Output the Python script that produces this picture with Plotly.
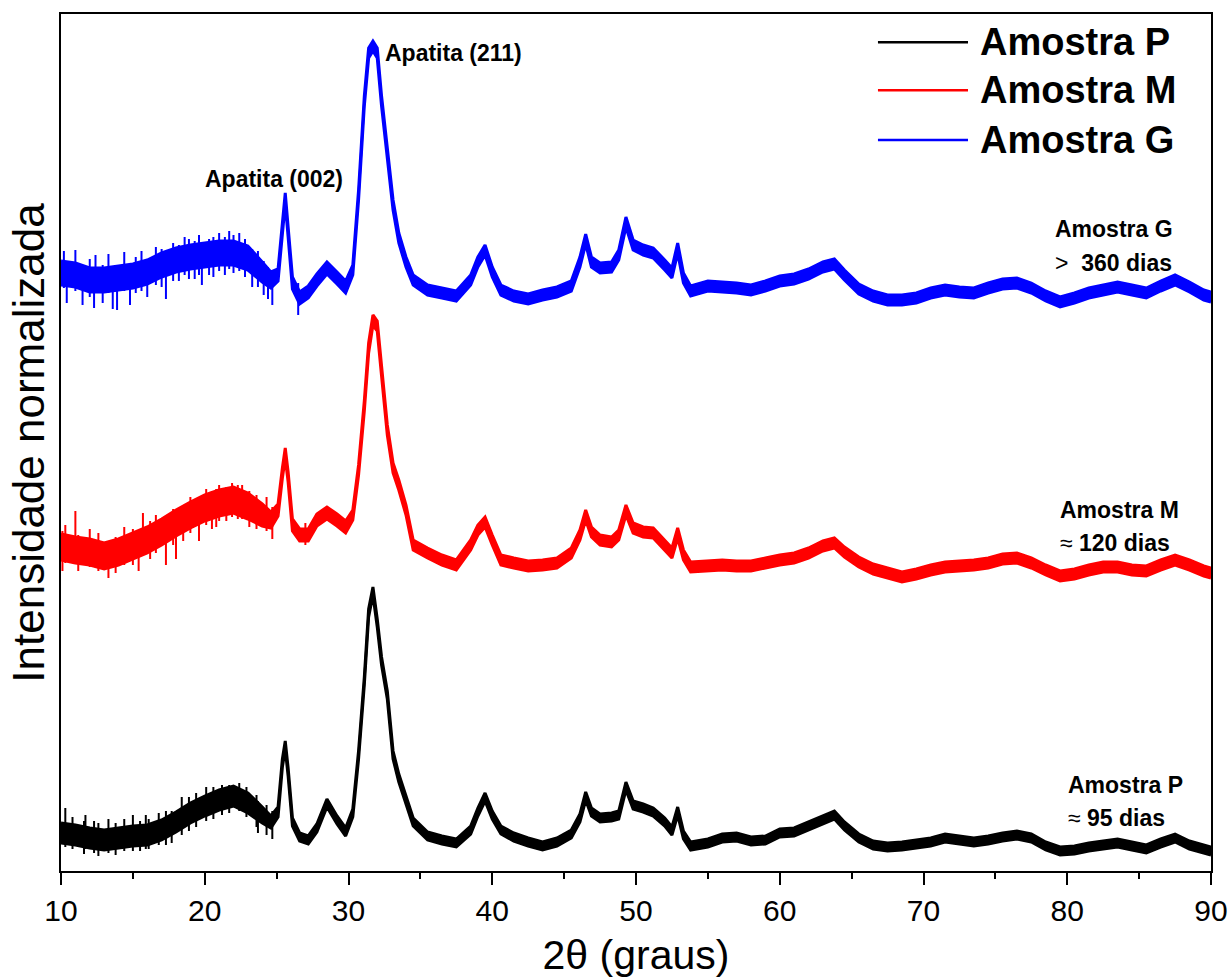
import plotly.graph_objects as go

# 2-theta grid (degrees), shared by the three patterns
two_theta = [
    10, 11, 12, 13, 14, 15, 16, 17, 18, 19, 20, 21, 22, 23, 24,
    24.6, 25.1, 25.4, 25.6, 25.8, 26.1, 26.6, 27.2, 27.8, 28.5, 29.2, 29.8,
    30.3, 30.7, 31.1, 31.4, 31.7, 32.0, 32.3, 32.7, 33.1, 33.5, 34.0, 34.5,
    35.5, 36.5, 37.5, 38.5, 39.0, 39.5, 40.0, 40.6, 41.5, 42.5, 43.5, 44.5,
    45.5, 46.1, 46.5, 46.9, 47.5, 48.3, 48.8, 49.3, 49.8, 50.5, 51.2, 52.0,
    52.5, 52.9, 53.3, 53.8, 55, 56, 57, 58, 59, 60, 61, 62, 63, 63.8, 64.5,
    65.5, 66.5, 67.5, 68.5, 69.5, 70.5, 71.5, 72.5, 73.5, 74.5, 75.5, 76.5,
    77.5, 78.5, 79.5, 80.5, 81.5, 82.5, 83.5, 84.5, 85.5, 86.5, 87.5, 88.5,
    89.5, 90,
]

# Offset, normalized intensities (a.u.) - mean line of each pattern
int_P = [
    38, 36, 33, 31, 33, 35, 36, 41, 49, 58, 65, 71, 75, 68, 56,
    49, 59, 108, 126, 99, 49, 34, 31, 43, 68, 51, 39,
    58, 116, 190, 258, 280, 248, 210, 176, 116, 93, 71, 49,
    35, 31, 28, 41, 59, 74, 56, 41, 34, 29, 25, 29,
    37, 53, 75, 59, 53, 54, 56, 85, 66, 63, 59, 49,
    40, 60, 36, 25, 28, 33, 34, 30, 31, 38, 39, 45, 51, 56, 45,
    33, 26, 24, 25, 27, 29, 33, 31, 29, 31, 34, 36,
    33, 25, 20, 21, 24, 26, 28, 25, 22, 28, 33, 26,
    22, 20,
]
int_M = [
    324, 321, 319, 315, 319, 325, 331, 339, 348, 356, 363, 368, 371, 365, 356,
    351, 361, 398, 418, 394, 346, 336, 336, 351, 358, 351, 344,
    356, 401, 465, 523, 551, 545, 500, 441, 403, 386, 361, 326,
    318, 311, 306, 326, 341, 349, 331, 311, 308, 305, 306, 308,
    318, 336, 356, 339, 331, 329, 336, 361, 343, 339, 338, 326,
    318, 338, 316, 304, 305, 306, 305, 305, 308, 311, 313, 318, 325, 328, 319,
    309, 302, 298, 294, 297, 301, 304, 305, 306, 308, 312, 313,
    308, 301, 295, 297, 301, 304, 304, 301, 300, 306, 311, 306,
    300, 298,
]
int_G = [
    598, 596, 591, 591, 593, 595, 599, 606, 611, 614, 616, 618, 618, 613, 599,
    591, 596, 643, 673, 639, 588, 573, 579, 591, 603, 593, 584,
    601, 676, 770, 818, 825, 818, 770, 721, 666, 633, 609, 591,
    581, 578, 575, 591, 609, 621, 599, 581, 575, 572, 576, 579,
    585, 609, 632, 609, 603, 604, 616, 649, 626, 621, 618, 606,
    598, 623, 593, 580, 585, 584, 583, 581, 585, 590, 592, 597, 604, 607, 596,
    582, 575, 571, 571, 573, 578, 581, 579, 578, 583, 587, 588,
    583, 575, 569, 573, 578, 581, 584, 581, 578, 585, 591, 584,
    576, 574,
]

# Half-width of the dense noise band (a.u.)
noise_P = [
    10, 10, 10, 10, 10, 10, 10, 10, 10, 10, 10, 10, 10, 10, 8,
    6, 5, 4, 4, 4, 4, 4, 4, 4, 4, 4, 4,
    4, 4, 4, 4, 4, 4, 4, 4, 4, 4, 4, 4,
    4, 4, 4, 4, 4, 4, 4, 4, 4, 4, 4, 4,
    4, 4, 4, 4, 4, 4, 4, 4, 4, 4, 4, 4,
    4, 4, 4, 4, 4, 4, 4, 4, 4, 4, 4, 4, 4, 4, 4,
    4, 4, 4, 4, 4, 4, 4, 4, 4, 4, 4, 4,
    4, 4, 4, 4, 4, 4, 4, 4, 4, 4, 4, 4,
    4, 4,
]
noise_M = [
    13, 13, 13, 13, 13, 13, 13, 13, 13, 13, 13, 13, 13, 13, 11,
    8, 6, 5, 5, 5, 6, 6, 6, 6, 6, 6, 6,
    5, 5, 5, 5, 5, 5, 5, 5, 5, 5, 5, 5,
    5, 5, 5, 5, 5, 5, 5, 5, 5, 5, 5, 5,
    5, 5, 5, 5, 5, 5, 5, 5, 5, 5, 5, 5,
    5, 5, 5, 5, 5, 5, 5, 5, 5, 5, 5, 5, 5, 5, 5,
    5, 5, 5, 5, 5, 5, 5, 5, 5, 5, 5, 5,
    5, 5, 5, 5, 5, 5, 5, 5, 5, 5, 5, 5,
    5, 5,
]
noise_G = [
    12, 12, 12, 12, 12, 12, 12, 12, 12, 12, 12, 12, 12, 12, 10,
    8, 6, 5, 5, 5, 6, 6, 6, 6, 6, 6, 6,
    5, 5, 5, 5, 5, 5, 5, 5, 5, 5, 5, 5,
    5, 5, 5, 5, 5, 5, 5, 5, 5, 5, 5, 5,
    5, 5, 5, 5, 5, 5, 5, 5, 5, 5, 5, 5,
    5, 5, 5, 5, 5, 5, 5, 5, 5, 5, 5, 5, 5, 5, 5,
    5, 5, 5, 5, 5, 5, 5, 5, 5, 5, 5, 5,
    5, 5, 5, 5, 5, 5, 5, 5, 5, 5, 5, 5,
    5, 5,
]

# Individual noise spikes visible at low angles: (2theta, low end, high end)
spikes_P = [
    (10.3, 24, 63), (10.8, 22, 54), (11.6, 17, 50), (11.7, 22, 56), (12.3, 18, 50),
    (12.6, 15, 48), (13.3, 18, 52), (13.8, 16, 48), (14.4, 20, 52), (15.0, 20, 56),
    (15.5, 20, 50), (15.9, 22, 56), (16.1, 22, 52), (16.8, 26, 58), (17.3, 26, 60),
    (17.7, 28, 60), (18.4, 36, 74), (18.9, 40, 74), (19.4, 44, 78), (20.1, 50, 84),
    (20.6, 52, 84), (21.2, 56, 86), (21.7, 58, 86), (22.4, 60, 88), (22.9, 54, 84),
    (23.6, 44, 76), (23.7, 38, 70), (24.3, 36, 66), (24.7, 32, 60),
]
spikes_M = [
    (10.1, 300, 340), (10.3, 308, 346), (11.0, 312, 360), (11.2, 300, 336),
    (12.0, 304, 342), (12.6, 300, 338), (13.3, 293, 330), (13.8, 298, 334),
    (14.4, 306, 344), (15.0, 306, 342), (15.4, 300, 338), (15.7, 316, 358),
    (16.2, 312, 350), (16.6, 318, 356), (17.3, 306, 348), (17.8, 326, 362),
    (18.0, 312, 356), (18.5, 330, 366), (19.0, 338, 374), (19.6, 330, 370),
    (20.1, 346, 382), (20.5, 342, 380), (20.8, 344, 382), (21.0, 350, 386),
    (21.5, 350, 384), (21.9, 354, 388), (22.3, 352, 386), (22.6, 352, 386),
    (23.1, 344, 380), (23.6, 342, 376), (24.3, 340, 374), (24.7, 332, 364),
    (27.0, 326, 348),
]
spikes_G = [
    (10.2, 583, 620), (10.4, 568, 606), (11.0, 580, 621), (11.5, 566, 604),
    (12.0, 574, 612), (12.3, 563, 600), (12.4, 578, 616), (12.9, 568, 606),
    (13.3, 578, 617), (13.6, 562, 600), (13.9, 561, 598), (14.4, 580, 619),
    (14.8, 566, 604), (15.2, 578, 614), (15.6, 580, 620), (16.0, 574, 612),
    (16.6, 586, 624), (17.0, 584, 622), (17.3, 572, 610), (17.8, 590, 628),
    (18.2, 590, 626), (18.6, 596, 634), (18.9, 592, 632), (19.3, 592, 630),
    (19.6, 596, 636), (19.8, 586, 622), (20.3, 596, 632), (20.6, 594, 634),
    (21.0, 600, 638), (21.4, 596, 634), (21.7, 602, 640), (22.0, 598, 636),
    (22.4, 600, 638), (22.8, 594, 632), (23.3, 584, 622), (23.7, 584, 620),
    (24.1, 576, 610), (24.4, 572, 604), (24.7, 566, 600), (26.5, 556, 588),
]

series_names = ["Amostra P", "Amostra M", "Amostra G"]
series_colors = ["#000000", "#ff0000", "#0000ff"]
series_values = [int_P, int_M, int_G]
series_noise = [noise_P, noise_M, noise_G]
series_spikes = [spikes_P, spikes_M, spikes_G]
age_labels = ["\u2248 95 dias", "\u2248 120 dias", "&gt;&nbsp; 360 dias"]
peak_labels = ["Apatita (002)", "Apatita (211)"]

for arr in series_values + series_noise:
    assert len(arr) == len(two_theta), len(arr)

FONT = "Arial, 'Liberation Sans', sans-serif"

fig = go.Figure()
for name, color, vals, nz, spk in zip(series_names, series_colors, series_values,
                                      series_noise, series_spikes):
    lower = [v - n for v, n in zip(vals, nz)]
    upper = [v + n for v, n in zip(vals, nz)]
    fig.add_trace(go.Scatter(x=two_theta, y=lower, mode="lines",
                             line=dict(color=color, width=3),
                             showlegend=False, hoverinfo="skip"))
    fig.add_trace(go.Scatter(x=two_theta, y=upper, mode="lines", fill="tonexty",
                             fillcolor=color, line=dict(color=color, width=3),
                             name=name, showlegend=False))
    sx, sy = [], []
    for a, lo, hi in spk:
        sx += [a, a, None]
        sy += [lo, hi, None]
    fig.add_trace(go.Scatter(x=sx, y=sy, mode="lines", line=dict(color=color, width=2),
                             showlegend=False, hoverinfo="skip"))

# manual legend (long line samples, as in the original)
legend_rows = [0.967, 0.911, 0.853]
for name, color, yy in zip(series_names, series_colors, legend_rows):
    fig.add_shape(type="line", xref="paper", yref="paper",
                  x0=0.7104, x1=0.7887, y0=yy, y1=yy,
                  line=dict(color=color, width=2.5))
    fig.add_annotation(xref="paper", yref="paper", x=0.7975, y=yy,
                       xanchor="left", yanchor="middle", showarrow=False,
                       text="<b>%s</b>" % name,
                       font=dict(family=FONT, size=38, color="black"))

# peak labels
fig.add_annotation(x=24.8, y=692, text="<b>%s</b>" % peak_labels[0], showarrow=False,
                   xanchor="center", yanchor="middle",
                   font=dict(family=FONT, size=23, color="black"))
fig.add_annotation(x=32.4, y=818, text="<b>%s</b>" % peak_labels[1], showarrow=False,
                   xanchor="left", yanchor="middle",
                   font=dict(family=FONT, size=23, color="black"))

# sample labels on the right
side_pos = [(79.9, 86, 53), (79.34, 361, 328), (79.0, 642, 608)]
for name, age, (xx, y1, y2) in zip(series_names, age_labels, side_pos):
    fig.add_annotation(x=xx, y=y1, text="<b>%s</b>" % name, showarrow=False,
                       xanchor="left", yanchor="middle",
                       font=dict(family=FONT, size=23, color="black"))
    sym, rest = age.split(" ", 1)
    fig.add_annotation(x=xx, y=y2, text="%s <b>%s</b>" % (sym, rest.strip()),
                       showarrow=False, xanchor="left", yanchor="middle",
                       font=dict(family=FONT, size=23, color="black"))

# y-axis title
fig.add_annotation(xref="paper", yref="paper", x=-0.0285, y=0.5,
                   text="Intensidade normalizada", textangle=-90, showarrow=False,
                   xanchor="center", yanchor="middle",
                   font=dict(family=FONT, size=44, color="black"))

fig.update_layout(
    width=1232, height=980,
    margin=dict(l=61, r=21, t=14, b=109),
    paper_bgcolor="white", plot_bgcolor="white",
    font=dict(family=FONT, color="black"),
    xaxis=dict(range=[10, 90], dtick=10, tick0=10, ticks="outside", ticklen=12,
               tickwidth=2, tickcolor="black", showline=True, linewidth=2,
               linecolor="black", mirror=True, showgrid=False, zeroline=False,
               automargin=False,
               tickfont=dict(family=FONT, size=30, color="black"),
               minor=dict(dtick=5, tick0=10, ticks="outside", ticklen=6,
                          tickwidth=2, tickcolor="black", showgrid=False),
               title=dict(text="2\u03b8 (graus)", standoff=14,
                          font=dict(family=FONT, size=41, color="black"))),
    yaxis=dict(range=[0, 857], showticklabels=False, ticks="", showline=True,
               linewidth=2, linecolor="black", mirror=True, showgrid=False,
               zeroline=False, automargin=False),
)

fig.write_html("out.html")
